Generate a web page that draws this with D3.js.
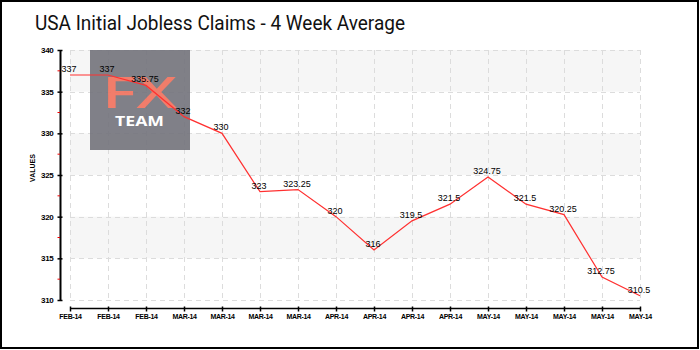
<!DOCTYPE html>
<html><head><meta charset="utf-8">
<script src="https://cdn.jsdelivr.net/npm/d3@7"></script>
<style>body{margin:0;background:#fff}svg{display:block}</style>
</head><body><svg id="c" width="700" height="350"></svg>
<script>
const title = "USA Initial Jobless Claims - 4 Week Average";
const categories = ["FEB-14","FEB-14","FEB-14","MAR-14","MAR-14","MAR-14","MAR-14","APR-14","APR-14","APR-14","APR-14","MAY-14","MAY-14","MAY-14","MAY-14","MAY-14"];
const values = [337,337,335.75,332,330,323,323.25,320,316,319.5,321.5,324.75,321.5,320.25,312.75,310.5];
const yTicks = [310,315,320,325,330,335,340];
const yMinorTicks = [312.5,317.5,322.5,327.5,332.5,337.5];
const yLabel = "VALUES";

const svg = d3.select("#c");
const pLeft = 70, pRight = 640, pTop = 50, pBottom = 300;
const x = d3.scalePoint().domain(d3.range(values.length)).range([pLeft, pRight]);
const y = d3.scaleLinear().domain([310, 340]).range([pBottom, pTop]);

// border
svg.append("rect").attr("x",1).attr("y",1).attr("width",697).attr("height",347)
  .attr("fill","none").attr("stroke","#000").attr("stroke-width",2);

// title
svg.append("text").attr("x",35).attr("y",30).text(title)
  .attr("font-family","Roboto, 'Liberation Sans', sans-serif").attr("font-size",21)
  .attr("fill","#111").attr("textLength",370).attr("lengthAdjust","spacingAndGlyphs");

// background bands
const bands = [[335,340],[325,330],[315,320]];
svg.append("g").selectAll("rect").data(bands).join("rect")
  .attr("x",pLeft).attr("width",pRight-pLeft)
  .attr("y",d=>y(d[1])).attr("height",d=>y(d[0])-y(d[1]))
  .attr("fill","#f6f6f6");

// grid
const grid = svg.append("g").attr("stroke","#dcdcdc").attr("stroke-dasharray","5,4").attr("stroke-width",1);
grid.selectAll(".v").data(d3.range(values.length)).join("line").attr("class","v")
  .attr("x1",d=>Math.round(x(d))+0.5).attr("x2",d=>Math.round(x(d))+0.5)
  .attr("y1",pTop).attr("y2",pBottom);
grid.selectAll(".h").data(yTicks).join("line").attr("class","h")
  .attr("x1",pLeft).attr("x2",pRight)
  .attr("y1",d=>Math.round(y(d))+0.5).attr("y2",d=>Math.round(y(d))+0.5);

// logo
const logo = svg.append("g").attr("opacity",0.92);
logo.append("rect").attr("x",90).attr("y",50).attr("width",100).attr("height",100).attr("fill","#76767e");
logo.append("text").attr("x",102).attr("y",108)
  .attr("font-family","'Open Sans', 'Liberation Sans', sans-serif").attr("font-size",43)
  .attr("font-weight",600).attr("fill","#f0735f").attr("textLength",75)
  .attr("lengthAdjust","spacingAndGlyphs").text("FX");
logo.append("text").attr("x",115).attr("y",126)
  .attr("font-family","'Open Sans', 'Liberation Sans', sans-serif").attr("font-size",14)
  .attr("font-weight",700).attr("fill","#ffffff").attr("textLength",49)
  .attr("lengthAdjust","spacingAndGlyphs").text("TEAM");

// y axis
const yAxis = svg.append("g").attr("transform",`translate(60.5,0)`)
  .call(d3.axisLeft(y).tickValues(yTicks).tickSize(3).tickPadding(4).tickFormat(d3.format("d")));
yAxis.select(".domain").attr("d",`M0,${pTop}V${pBottom}`).attr("stroke","#000").attr("stroke-width",2);
yAxis.selectAll(".tick line").attr("x1",-3).attr("x2",2).attr("stroke","#000").attr("stroke-width",1.5);
yAxis.selectAll(".tick text").attr("font-family","'Liberation Sans', sans-serif").attr("font-size",8)
  .attr("font-weight",700).attr("fill","#000").attr("letter-spacing",-0.3);
svg.append("g").selectAll("line").data(yMinorTicks).join("line")
  .attr("x1",57.5).attr("x2",60).attr("y1",d=>y(d)).attr("y2",d=>y(d))
  .attr("stroke","#e00").attr("stroke-width",1);

svg.append("text").attr("transform","translate(35,168) rotate(-90)").attr("text-anchor","middle")
  .attr("font-family","'Liberation Sans', sans-serif").attr("font-size",7).attr("font-weight",700)
  .text(yLabel);

// x axis
const xAxis = svg.append("g").attr("transform",`translate(0,308.5)`)
  .call(d3.axisBottom(x).tickSize(3).tickPadding(3).tickFormat(i=>categories[i]));
xAxis.select(".domain").attr("d",`M${pLeft},0H${pRight}`).attr("stroke","#000").attr("stroke-width",1.5);
xAxis.selectAll(".tick line").attr("y1",-2).attr("y2",3).attr("stroke","#000").attr("stroke-width",1.5);
xAxis.selectAll(".tick text").attr("font-family","'Liberation Sans', sans-serif").attr("font-size",7)
  .attr("font-weight",700).attr("fill","#000").attr("letter-spacing",-0.3);

// line
const line = d3.line().x((d,i)=>x(i)).y(d=>y(d));
svg.append("path").datum(values).attr("d",line).attr("fill","none")
  .attr("stroke","#ff3030").attr("stroke-width",1.2);

// point labels
svg.append("g").selectAll("text").data(values).join("text")
  .attr("x",(d,i)=>x(i)-1).attr("y",d=>y(d)-3).attr("text-anchor","middle")
  .attr("font-family","'Liberation Sans', sans-serif").attr("font-size",9)
  .attr("fill","#000").text(d=>d);
</script></body></html>
